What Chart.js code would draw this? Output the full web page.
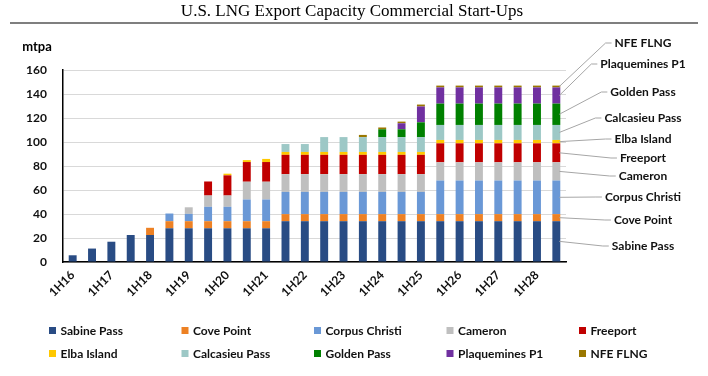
<!DOCTYPE html>
<html>
<head>
<meta charset="utf-8">
<script src="https://cdn.jsdelivr.net/npm/chart.js@4/dist/chart.umd.min.js"></script>
<style>
  html, body { margin: 0; padding: 0; background: #ffffff; }
  #wrap { position: relative; width: 708px; height: 376px; }
  canvas { display: block; }
</style>
</head>
<body>
<div id="wrap"><canvas id="c" width="708" height="376"></canvas></div>
<script>
// ---------- DATA ----------
const title = 'U.S. LNG Export Capacity Commercial Start-Ups';
const unitLabel = 'mtpa';
const categories = ['1H16','2H16','1H17','2H17','1H18','2H18','1H19','2H19','1H20','2H20','1H21','2H21','1H22','2H22','1H23','2H23','1H24','2H24','1H25','2H25','1H26','2H26','1H27','2H27','1H28','2H28'];
const seriesNames = ['Sabine Pass','Cove Point','Corpus Christi','Cameron','Freeport','Elba Island','Calcasieu Pass','Golden Pass','Plaquemines P1','NFE FLNG'];

const sabinePass    = [5.6, 11.2, 16.9, 22.5, 22.5, 28.1, 28.1, 28.1, 28.1, 28.1, 28.1, 34, 34, 34, 34, 34, 34, 34, 34, 34, 34, 34, 34, 34, 34, 34];
const covePoint     = [0, 0, 0, 0, 6.0, 5.9, 5.9, 5.9, 5.9, 5.9, 5.9, 5.9, 5.9, 5.9, 5.9, 5.9, 5.9, 5.9, 5.9, 5.9, 5.9, 5.9, 5.9, 5.9, 5.9, 5.9];
const corpusChristi = [0, 0, 0, 0, 0, 6.4, 6.1, 12, 12, 18.1, 18.1, 18.5, 18.5, 18.5, 18.5, 18.5, 18.5, 18.5, 18.5, 28, 28, 28, 28, 28, 28, 28];
const cameron       = [0, 0, 0, 0, 0, 0, 5.5, 9.4, 9.4, 14.8, 14.8, 14.8, 14.8, 14.8, 14.8, 14.8, 14.8, 14.8, 14.8, 15.2, 15.2, 15.2, 15.2, 15.2, 15.2, 15.2];
const freeport      = [0, 0, 0, 0, 0, 0, 0, 11.7, 16.8, 16.4, 16.4, 16.1, 16.1, 16.1, 16.1, 16.1, 16.1, 16.1, 16.1, 15.8, 15.8, 15.8, 15.8, 15.8, 15.8, 15.8];
const elbaIsland    = [0, 0, 0, 0, 0, 0, 0, 0, 1.4, 1.6, 2.6, 2.4, 2.4, 2.4, 2.4, 2.4, 2.4, 2.4, 2.4, 2.8, 2.8, 2.8, 2.8, 2.8, 2.8, 2.8];
const calcasieuPass = [0, 0, 0, 0, 0, 0, 0, 0, 0, 0, 0, 6.6, 6.6, 12.4, 12.4, 12.4, 12.4, 12.4, 12.4, 12.5, 12.5, 12.5, 12.5, 12.5, 12.5, 12.5];
const goldenPass    = [0, 0, 0, 0, 0, 0, 0, 0, 0, 0, 0, 0, 0, 0, 0, 0, 6.5, 6.5, 12.3, 17.8, 17.8, 17.8, 17.8, 17.8, 17.8, 17.8];
const plaqueminesP1 = [0, 0, 0, 0, 0, 0, 0, 0, 0, 0, 0, 0, 0, 0, 0, 0, 0, 5.0, 13.2, 13.5, 13.5, 13.5, 13.5, 13.5, 13.5, 13.5];
const nfeFlng       = [0, 0, 0, 0, 0, 0, 0, 0, 0, 0, 0, 0, 0, 0, 0, 1.8, 1.5, 1.4, 1.6, 1.5, 1.5, 1.5, 1.5, 1.5, 1.5, 1.5];

const yTickValues = [0, 20, 40, 60, 80, 100, 120, 140, 160];

// ---------- STYLE ----------
const colors = ['#294c84','#ed8124','#6a98d6','#bfbfbf','#c00000','#ffc800','#9dc8c6','#008000','#7030a0','#9a7700'];
const allSeries = [sabinePass, covePoint, corpusChristi, cameron, freeport, elbaIsland, calcasieuPass, goldenPass, plaqueminesP1, nfeFlng];
const FONT = 'Lato, "Open Sans", "Liberation Sans", sans-serif';

const datasets = seriesNames.map((name, i) => ({
  label: name,
  data: allSeries[i],
  backgroundColor: colors[i],
  borderWidth: 0,
  categoryPercentage: 1.0,
  barPercentage: 0.41
}));

const decorPlugin = {
  id: 'decor',
  afterDraw(chart) {
    const ctx = chart.ctx;
    const ca = chart.chartArea;
    ctx.save();
    // title
    ctx.fillStyle = '#000';
    ctx.font = '17px "Liberation Serif", "DejaVu Serif", serif';
    ctx.textAlign = 'center';
    ctx.textBaseline = 'middle';
    ctx.fillText(title, 352, 12);
    // rule under title
    ctx.strokeStyle = '#7f7f7f';
    ctx.lineWidth = 2;
    ctx.beginPath();
    ctx.moveTo(10, 23);
    ctx.lineTo(698, 23);
    ctx.stroke();
    // unit label
    ctx.font = 'bold 13px ' + FONT;
    ctx.fillStyle = '#000';
    ctx.textAlign = 'center';
    ctx.fillText(unitLabel, 37, 47);

    // legend: 2 rows x 5 columns
    ctx.font = 'bold 12px ' + FONT;
    ctx.textAlign = 'left';
    ctx.textBaseline = 'middle';
    chart.data.datasets.forEach((ds, i) => {
      const col = i % 5, row = Math.floor(i / 5);
      const x = 49 + col * 132.5;
      const y = 330.5 + row * 23;
      ctx.fillStyle = ds.backgroundColor;
      ctx.fillRect(x, y - 3.5, 7, 7);
      ctx.fillStyle = '#111';
      ctx.fillText(ds.label, x + 11.5, y + 0.5);
    });

    // leader-line labels for the last column
    const labelY = [246, 220, 197, 176, 158, 139, 118, 92, 64, 43];
    const labelCx = 643;
    ctx.font = 'bold 12px ' + FONT;
    ctx.textAlign = 'center';
    chart.data.datasets.forEach((ds, i) => {
      const meta = chart.getDatasetMeta(i);
      const el = meta.data[meta.data.length - 1];
      if (!el) return;
      const midY = (el.y + el.base) / 2;
      const sx = el.x + el.width / 2 - 1;
      const ty = labelY[i];
      const w = ctx.measureText(ds.label).width;
      const tl = labelCx - w / 2;
      ctx.strokeStyle = '#a6a6a6';
      ctx.lineWidth = 1;
      ctx.beginPath();
      ctx.moveTo(sx, midY);
      ctx.lineTo(tl - 9, ty);
      ctx.lineTo(tl - 3, ty);
      ctx.stroke();
      ctx.fillStyle = '#111';
      ctx.fillText(ds.label, labelCx, ty + 0.5);
    });
    ctx.restore();
  }
};

new Chart(document.getElementById('c'), {
  type: 'bar',
  data: { labels: categories, datasets },
  options: {
    responsive: false,
    devicePixelRatio: 1,
    animation: false,
    layout: { padding: { top: 70, left: 0, right: 142, bottom: 64 } },
    plugins: {
      legend: { display: false },
      tooltip: { enabled: false },
      title: { display: false }
    },
    scales: {
      x: {
        stacked: true,
        grid: { display: false, drawTicks: false },
        border: { display: true, color: '#000', width: 1.5 },
        ticks: {
          autoSkip: false,
          maxRotation: 45,
          minRotation: 45,
          padding: 6,
          color: '#111',
          font: { family: FONT, size: 12, weight: 'bold' },
          callback: (v, i) => (i % 2 === 0 ? categories[i] : '')
        },
        afterFit(scale) { scale.height = 50; }
      },
      y: {
        stacked: true,
        min: 0,
        max: 160,
        afterBuildTicks(scale) { scale.ticks = yTickValues.map(v => ({ value: v })); },
        grid: { color: '#d9d9d9', lineWidth: 1, drawTicks: false },
        border: { display: true, color: '#000', width: 1.5 },
        ticks: {
          padding: 16,
          color: '#111',
          font: { family: FONT, size: 12, weight: 'bold' }
        },
        afterFit(scale) { scale.width = 63; }
      }
    }
  },
  plugins: [decorPlugin]
});
</script>
</body>
</html>
